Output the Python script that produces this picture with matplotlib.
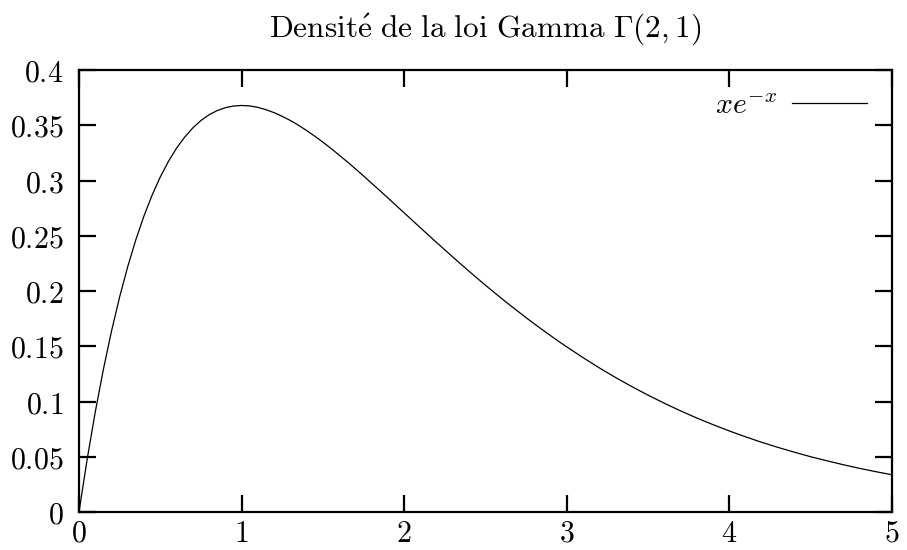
import matplotlib
matplotlib.use("Agg")
import matplotlib.pyplot as plt

# values
x_vals = [0, 0.05, 0.1, 0.15, 0.2, 0.25, 0.3, 0.35, 0.4, 0.45, 0.5,
          0.55, 0.6, 0.65, 0.7, 0.75, 0.8, 0.85, 0.9, 0.95, 1.0,
          1.05, 1.1, 1.15, 1.2, 1.25, 1.3, 1.35, 1.4, 1.45, 1.5,
          1.55, 1.6, 1.65, 1.7, 1.75, 1.8, 1.85, 1.9, 1.95, 2.0,
          2.05, 2.1, 2.15, 2.2, 2.25, 2.3, 2.35, 2.4, 2.45, 2.5,
          2.55, 2.6, 2.65, 2.7, 2.75, 2.8, 2.85, 2.9, 2.95, 3.0,
          3.1, 3.2, 3.3, 3.4, 3.5, 3.6, 3.7, 3.8, 3.9, 4.0,
          4.1, 4.2, 4.3, 4.4, 4.5, 4.6, 4.7, 4.8, 4.9, 5.0]
y_vals = [0, 0.0476, 0.0905, 0.1291, 0.1637, 0.1947, 0.2222, 0.2466, 0.2681, 0.2869, 0.3033,
          0.3173, 0.3293, 0.3393, 0.3476, 0.3543, 0.3595, 0.3633, 0.3659, 0.3674, 0.3679,
          0.3675, 0.3662, 0.3641, 0.3614, 0.3581, 0.3543, 0.3500, 0.3452, 0.3401, 0.3347,
          0.3290, 0.3230, 0.3169, 0.3106, 0.3041, 0.2975, 0.2909, 0.2842, 0.2774, 0.2707,
          0.2639, 0.2572, 0.2504, 0.2438, 0.2372, 0.2306, 0.2241, 0.2177, 0.2114, 0.2052,
          0.1991, 0.1931, 0.1872, 0.1815, 0.1758, 0.1703, 0.1649, 0.1596, 0.1544, 0.1494,
          0.1397, 0.1304, 0.1217, 0.1135, 0.1057, 0.0984, 0.0915, 0.0850, 0.0790, 0.0733,
          0.0680, 0.0630, 0.0584, 0.0541, 0.0500, 0.0463, 0.0428, 0.0395, 0.0365, 0.0337]

x_ticks = [0, 1, 2, 3, 4, 5]
y_ticks = [0, 0.05, 0.1, 0.15, 0.2, 0.25, 0.3, 0.35, 0.4]
x_labels = ["0", "1", "2", "3", "4", "5"]
y_labels = ["0", "0.05", "0.1", "0.15", "0.2", "0.25", "0.3", "0.35", "0.4"]

plt.rcParams["mathtext.fontset"] = "cm"

fig = plt.figure(figsize=(9.07, 5.5), dpi=100)
ax = fig.add_axes([0.0871, 0.0691, 0.8964, 0.8036])

ax.plot(x_vals, y_vals, color="black", linewidth=0.9, label=r"$xe^{-x}$")

ax.set_xlim(0, 5)
ax.set_ylim(0, 0.4)
ax.set_xticks(x_ticks)
ax.set_xticklabels(["$" + s + "$" for s in x_labels])
ax.set_yticks(y_ticks)
ax.set_yticklabels(["$" + s + "$" for s in y_labels])
ax.tick_params(direction="in", length=12, width=1.6, labelsize=21.5,
               top=True, right=True)
ax.tick_params(axis="x", pad=5)
ax.tick_params(axis="y", pad=11)
for sp in ax.spines.values():
    sp.set_linewidth(1.6)

ax.set_title(r"$\mathrm{Densit\acute{e}\ de\ la\ loi\ Gamma}\ \Gamma(2,1)$",
             fontsize=22.5, pad=24)

ax.legend(loc="upper right", frameon=False, markerfirst=False, fontsize=21.5,
          handlelength=2.5, handletextpad=0.5, borderaxespad=0.3,
          bbox_to_anchor=(0.995, 1.0))

fig.savefig("out.png", dpi=100)
